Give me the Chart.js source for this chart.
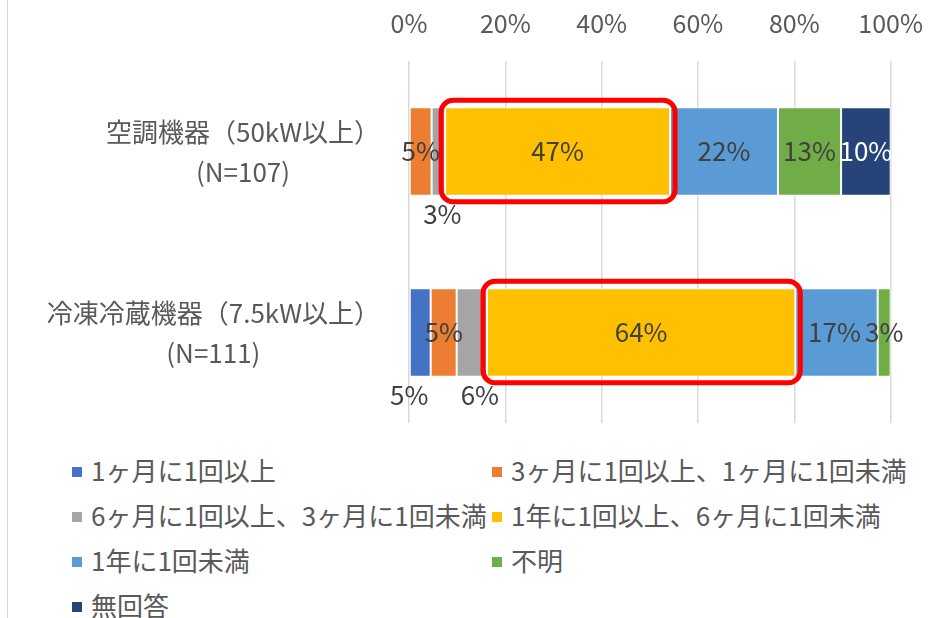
<!DOCTYPE html>
<html>
<head>
<meta charset="utf-8">
<script src="https://cdn.jsdelivr.net/npm/chart.js@4"></script>
<style>
  body { margin: 0; background: #fff; font-family: "Noto Sans CJK JP", sans-serif; }
  #wrap { position: relative; width: 946px; height: 618px; overflow: hidden; }
  #edge { position: absolute; left: 7px; top: 0; width: 1px; height: 618px; background: #d9d9d9; }
  #chart-block { position: absolute; left: 0; top: 0; }
  #legend { position: absolute; left: 72px; top: 448px; width: 860px; }
  .item { position: absolute; height: 44px; line-height: 44px; font-size: 26px; color: #595959; white-space: nowrap; }
  .item i { display: inline-block; width: 10px; height: 10px; margin-right: 9px; vertical-align: middle; position: relative; top: -2px; }
</style>
</head>
<body>
<div id="wrap">
  <div id="edge"></div>
  <canvas id="chart-block" width="946" height="440"></canvas>
  <div id="legend"></div>
</div>
<script>
const categories = [
  ['空調機器（50kW以上）', '(N=107)'],
  ['冷凍冷蔵機器（7.5kW以上）', '(N=111)']
];
const seriesNames = [
  '1ヶ月に1回以上',
  '3ヶ月に1回以上、1ヶ月に1回未満',
  '6ヶ月に1回以上、3ヶ月に1回未満',
  '1年に1回以上、6ヶ月に1回未満',
  '1年に1回未満',
  '不明',
  '無回答'
];
const colors = ['#4472C4', '#ED7D31', '#A5A5A5', '#FFC000', '#5B9BD5', '#70AD47', '#264478'];
// percent per category, [空調, 冷凍冷蔵]
const monthly = [0, 4.5];
const quarterly = [4.7, 5.4];
const halfYear = [2.8, 6.3];
const yearly = [46.7, 64.0];
const lessThanYear = [22.4, 17.1];
const unknown = [13.1, 2.7];
const noAnswer = [10.3, 0];
const tickLabels = ['0%', '20%', '40%', '60%', '80%', '100%'];

const values = [monthly, quarterly, halfYear, yearly, lessThanYear, unknown, noAnswer];
const FONT = '"Noto Sans CJK JP", sans-serif';

// labels Excel moved below the bar: [dataset, index, dx]
const belowLabels = [[2, 0, 4], [0, 1, -11], [2, 1, 8]];

const labelPlugin = {
  id: 'labels',
  afterDatasetsDraw(chart) {
    const ctx = chart.ctx;
    const area = chart.chartArea;
    const yScale = chart.scales.y;

    // red boxes around the 1年に1回以上 segment
    const hi = chart.getDatasetMeta(3);
    ctx.save();
    ctx.strokeStyle = '#FF0000';
    ctx.lineWidth = 5;
    hi.data.forEach(bar => {
      const l = Math.min(bar.x, bar.base) - 4, r = Math.max(bar.x, bar.base) + 5;
      const t = bar.y - bar.height / 2 - 7, b = bar.y + bar.height / 2 + 6;
      ctx.beginPath();
      ctx.roundRect(l, t, r - l, b - t, 12);
      ctx.stroke();
    });
    ctx.restore();

    // value labels
    ctx.save();
    ctx.font = '26px ' + FONT;
    ctx.textAlign = 'center';
    ctx.textBaseline = 'middle';
    chart.data.datasets.forEach((ds, di) => {
      const meta = chart.getDatasetMeta(di);
      meta.data.forEach((bar, i) => {
        const v = ds.data[i];
        if (!v) return;
        let x = (bar.x + bar.base) / 2, y = bar.y;
        const below = belowLabels.find(p => p[0] === di && p[1] === i);
        if (below) {
          x += below[2];
          y = bar.y + bar.height / 2 + 18;
        }
        if (di === 4 && i === 1) x -= 2;
        ctx.fillStyle = di === 6 ? '#ffffff' : '#404040';
        ctx.fillText(Math.round(v) + '%', x, y);
      });
    });
    ctx.restore();

    // category labels: block right-aligned, lines centred in block
    ctx.save();
    ctx.font = '26px ' + FONT;
    ctx.fillStyle = '#595959';
    ctx.textAlign = 'center';
    ctx.textBaseline = 'middle';
    categories.forEach((lines, i) => {
      const yc = yScale.getPixelForValue(i) + 1;
      const w = Math.max(...lines.map(s => ctx.measureText(s).width));
      const right = area.left - 29;
      const lh = 40;
      lines.forEach((s, k) => {
        ctx.fillText(s, right - w / 2, yc + (k - (lines.length - 1) / 2) * lh);
      });
    });
    ctx.restore();
  }
};

const ctx = document.getElementById('chart-block').getContext('2d');
new Chart(ctx, {
  type: 'bar',
  data: {
    labels: categories,
    datasets: seriesNames.map((name, i) => ({
      label: name,
      data: values[i],
      backgroundColor: colors[i],
      borderColor: '#ffffff',
      borderWidth: 1,
      borderSkipped: false,
      barPercentage: 0.49,
      categoryPercentage: 1
    }))
  },
  options: {
    indexAxis: 'y',
    responsive: false,
    animation: false,
    layout: { padding: { left: 0, right: 53, top: 0, bottom: 17 } },
    plugins: { legend: { display: false }, tooltip: { enabled: false } },
    scales: {
      x: {
        stacked: true,
        position: 'top',
        min: 0,
        max: 100,
        ticks: {
          stepSize: 20,
          padding: 23,
          color: '#595959',
          font: { family: FONT, size: 25 },
          callback: (v, i) => tickLabels[i]
        },
        grid: { color: '#d9d9d9', lineWidth: 1.5, drawTicks: false },
        border: { display: false },
        afterFit: s => { s.height = 61; }
      },
      y: {
        stacked: true,
        ticks: { display: false },
        grid: { display: false },
        border: { display: false },
        afterFit: s => { s.width = 409; }
      }
    }
  },
  plugins: [labelPlugin]
});

// legend, two columns like the original
const legend = document.getElementById('legend');
seriesNames.forEach((name, i) => {
  const d = document.createElement('div');
  d.className = 'item';
  d.style.left = (i % 2 ? 420 : 0) + 'px';
  d.style.top = (Math.floor(i / 2) * 45) + 'px';
  d.innerHTML = '<i style="background:' + colors[i] + '"></i>' + name;
  legend.appendChild(d);
});
</script>
</body>
</html>
